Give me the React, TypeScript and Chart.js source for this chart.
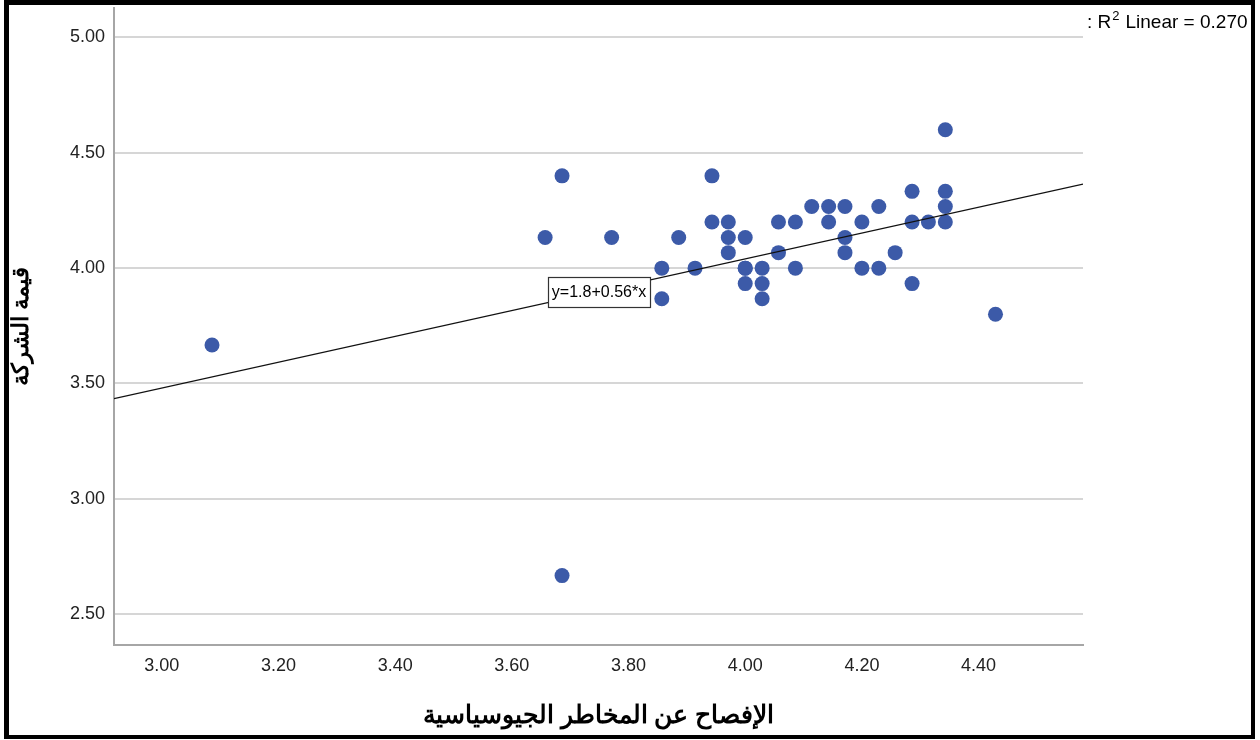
import React, { useEffect, useRef } from "react";
import { Chart, registerables } from "chart.js";

Chart.register(...registerables);

// Scatter data (x = الإفصاح عن المخاطر الجيوسياسية, y = قيمة الشركة)
const xValues = [
  3.086, 3.657, 3.686, 3.686, 3.771, 3.857, 3.857, 3.886, 3.914, 3.943,
  3.943, 3.971, 3.971, 3.971, 4.0, 4.0, 4.0, 4.0, 4.029, 4.029,
  4.029, 4.057, 4.057, 4.086, 4.086, 4.114, 4.143, 4.143, 4.171, 4.171,
  4.171, 4.2, 4.2, 4.229, 4.229, 4.257, 4.286, 4.286, 4.286, 4.314,
  4.343, 4.343, 4.343, 4.343, 4.429,
];
const yValues = [
  3.667, 4.133, 4.4, 2.667, 4.133, 4.0, 3.867, 4.133, 4.0, 4.4,
  4.2, 4.2, 4.133, 4.067, 4.133, 4.0, 4.0, 3.933, 4.0, 3.933,
  3.867, 4.2, 4.067, 4.2, 4.0, 4.267, 4.267, 4.2, 4.267, 4.133,
  4.067, 4.2, 4.0, 4.267, 4.0, 4.067, 4.333, 4.2, 3.933, 4.2,
  4.6, 4.333, 4.267, 4.2, 3.8,
];

const xTickValues = [3.0, 3.2, 3.4, 3.6, 3.8, 4.0, 4.2, 4.4];
const yTickValues = [2.5, 3.0, 3.5, 4.0, 4.5, 5.0];

const xMin = 2.918;
const xMax = 4.579;
const yMin = 2.366;
const yMax = 5.13;

const fitIntercept = 1.8;
const fitSlope = 0.56;
const fitLabel = "y=1.8+0.56*x";
const fitLabelPos = { x: 3.75, y: 3.896 };
const r2Text = "0.270";

const xTitle = "الإفصاح عن المخاطر الجيوسياسية";
const yTitle = "قيمة الشركة";

const FONT = 'Arial, "Liberation Sans", sans-serif';

const annotationPlugin = {
  id: "fitAnnotations",
  afterDatasetsDraw(chart: any) {
    const ctx = chart.ctx as CanvasRenderingContext2D;
    const xs = chart.scales.x;
    const ys = chart.scales.y;
    // equation box
    const cx = xs.getPixelForValue(fitLabelPos.x);
    const cy = ys.getPixelForValue(fitLabelPos.y);
    ctx.save();
    ctx.font = `16px ${FONT}`;
    const w = Math.round(ctx.measureText(fitLabel).width + 8);
    const h = 30;
    const left = Math.round(cx - w / 2);
    const top = Math.round(cy - h / 2);
    ctx.fillStyle = "#ffffff";
    ctx.fillRect(left, top, w, h);
    ctx.strokeStyle = "#333333";
    ctx.lineWidth = 1.2;
    ctx.strokeRect(left + 0.5, top + 0.5, w, h);
    ctx.fillStyle = "#000000";
    ctx.textAlign = "center";
    ctx.textBaseline = "middle";
    ctx.fillText(fitLabel, left + w / 2, top + h / 2 + 1);
    ctx.restore();

    // R² label top right
    ctx.save();
    ctx.fillStyle = "#000000";
    ctx.textBaseline = "alphabetic";
    ctx.textAlign = "left";
    let x = 1087;
    const base = 28;
    ctx.font = `19px ${FONT}`;
    ctx.fillText(": R", x, base);
    x += ctx.measureText(": R").width;
    ctx.font = `13px ${FONT}`;
    ctx.fillText("2", x + 1, base - 8);
    x += ctx.measureText("2").width + 7;
    ctx.font = `19px ${FONT}`;
    ctx.fillText("Linear = " + r2Text, x, base);
    ctx.restore();
  },
};

export default function App() {
  const canvasRef = useRef<HTMLCanvasElement | null>(null);

  useEffect(() => {
    if (!canvasRef.current) return;
    const points = xValues.map((x, i) => ({ x, y: yValues[i] }));
    const fitLine = [
      { x: xMin, y: fitIntercept + fitSlope * xMin },
      { x: xMax, y: fitIntercept + fitSlope * xMax },
    ];
    const chart = new Chart(canvasRef.current, {
      type: "scatter",
      data: {
        datasets: [
          {
            type: "line",
            data: fitLine,
            borderColor: "#111111",
            borderWidth: 1.2,
            pointRadius: 0,
            fill: false,
            order: 0,
          } as any,
          {
            data: points,
            backgroundColor: "#3c5aa8",
            borderColor: "#3c5aa8",
            borderWidth: 0,
            pointRadius: 7.5,
            order: 1,
          },
        ],
      },
      options: {
        animation: false,
        responsive: false,
        devicePixelRatio: 1,
        layout: { padding: { left: 0, right: 177, top: 5, bottom: 0 } },
        plugins: {
          legend: { display: false },
          tooltip: { enabled: false },
        },
        scales: {
          x: {
            type: "linear",
            min: xMin,
            max: xMax,
            afterBuildTicks: (scale: any) => {
              scale.ticks = xTickValues.map((v) => ({ value: v }));
            },
            afterFit: (scale: any) => {
              scale.height = 95;
              scale.paddingLeft = 0;
              scale.paddingRight = 0;
            },
            grid: { display: false, drawTicks: false },
            border: { display: true, color: "#a6a6a6", width: 2 },
            ticks: {
              padding: 10,
              color: "#222222",
              font: { family: FONT, size: 18 },
              callback: (v: any) => Number(v).toFixed(2),
              maxRotation: 0,
              autoSkip: false,
            },
            title: {
              display: true,
              text: xTitle,
              color: "#000000",
              font: { family: FONT, size: 25, weight: "bold" },
              padding: { top: 4, bottom: 9 },
            },
          },
          y: {
            type: "linear",
            min: yMin,
            max: yMax,
            afterBuildTicks: (scale: any) => {
              scale.ticks = yTickValues.map((v) => ({ value: v }));
            },
            afterFit: (scale: any) => {
              scale.width = 114;
              scale.paddingTop = 0;
              scale.paddingBottom = 0;
            },
            grid: { display: true, color: "#d6d6d6", lineWidth: 2, drawTicks: false },
            border: { display: true, color: "#a6a6a6", width: 2 },
            ticks: {
              padding: 9,
              color: "#222222",
              font: { family: FONT, size: 18 },
              callback: (v: any) => Number(v).toFixed(2),
              autoSkip: false,
            },
            title: {
              display: true,
              text: yTitle,
              color: "#000000",
              font: { family: FONT, size: 23, weight: "bold" },
              padding: { top: 8, bottom: 4 },
            },
          },
        },
      },
      plugins: [annotationPlugin],
    });
    return () => chart.destroy();
  }, []);

  return (
    <div
      style={{
        position: "fixed",
        left: 0,
        top: 0,
        width: 1260,
        height: 740,
        background: "#ffffff",
        overflow: "hidden",
      }}
    >
      <canvas ref={canvasRef} width={1260} height={740} style={{ display: "block" }} />
      <div
        style={{
          position: "absolute",
          left: 4,
          top: 0,
          width: 1251,
          height: 739,
          boxSizing: "border-box",
          borderLeft: "5px solid #000",
          borderTop: "5px solid #000",
          borderRight: "4px solid #000",
          borderBottom: "4px solid #000",
          pointerEvents: "none",
        }}
      />
    </div>
  );
}
